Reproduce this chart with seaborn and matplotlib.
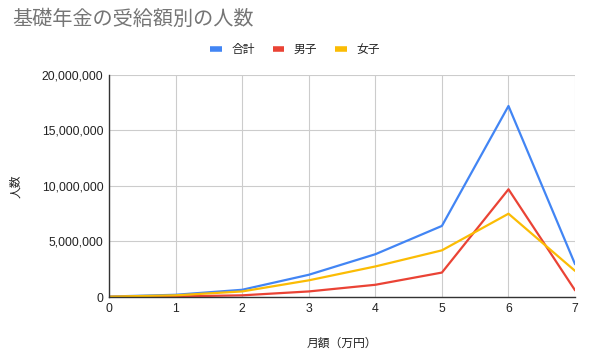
import matplotlib
matplotlib.use("Agg")
import matplotlib.pyplot as plt
import seaborn as sns
import pandas as pd
from matplotlib.ticker import FuncFormatter
from matplotlib.lines import Line2D

months = [0, 1, 2, 3, 4, 5, 6, 7]
total = [40000, 200000, 650000, 2000000, 3850000, 6400000, 17200000, 2950000]
male = [10000, 50000, 150000, 500000, 1100000, 2200000, 9700000, 600000]
female = [30000, 150000, 500000, 1500000, 2750000, 4200000, 7500000, 2350000]
series_names = ["合計", "男子", "女子"]
colors = ["#4285F4", "#EA4335", "#FBBC04"]

df = pd.DataFrame({"月額": months * 3,
                   "人数": total + male + female,
                   "系列": [series_names[0]] * 8 + [series_names[1]] * 8 + [series_names[2]] * 8})

sns.set_theme(style="whitegrid")
plt.rcParams['font.family'] = ['Liberation Sans', 'Noto Sans CJK JP', 'DejaVu Sans']

fig = plt.figure(figsize=(5.9, 3.6), dpi=100)
ax = fig.add_axes([0.1847, 0.175, 0.79, 0.617])
sns.lineplot(data=df, x="月額", y="人数", hue="系列", palette=colors, linewidth=1.6, ax=ax, legend=False)

ax.set_xlim(0, 7)
ax.set_ylim(0, 20000000)
ax.set_xticks(months)
ax.set_yticks([0, 5000000, 10000000, 15000000, 20000000])
ax.yaxis.set_major_formatter(FuncFormatter(lambda v, p: f"{int(v):,}"))
ax.grid(True, color="#cccccc", linewidth=0.8)
for s in ["top", "right"]:
    ax.spines[s].set_visible(False)
for s in ["left", "bottom"]:
    ax.spines[s].set_visible(True)
    ax.spines[s].set_color("#333333")
    ax.spines[s].set_linewidth(1)
ax.tick_params(axis="both", labelsize=8.8, colors="#222222", length=0, pad=4)
ax.set_xlabel("月額（万円）", fontsize=8.5, color="#222222", labelpad=16,
              family=['Noto Sans CJK JP', 'DejaVu Sans'])
ax.set_ylabel("人数", fontsize=8.5, color="#222222", labelpad=14,
              family=['Noto Sans CJK JP', 'DejaVu Sans'])

fig.text(0.02, 0.945, "基礎年金の受給額別の人数", fontsize=14.5, color="#757575", ha="left", va="center",
         family=['Noto Sans CJK JP', 'DejaVu Sans'])

handles = [Line2D([0], [0], color=c, linewidth=4, solid_capstyle="butt") for c in colors]
leg = fig.legend(handles, series_names, loc="center", bbox_to_anchor=(0.5, 0.862), ncol=3,
                 frameon=False, handlelength=1.0, handletextpad=0.8, columnspacing=1.5,
                 prop={"family": ['Noto Sans CJK JP', 'DejaVu Sans'], "size": 8.5})

fig.savefig("out.png", dpi=100)
